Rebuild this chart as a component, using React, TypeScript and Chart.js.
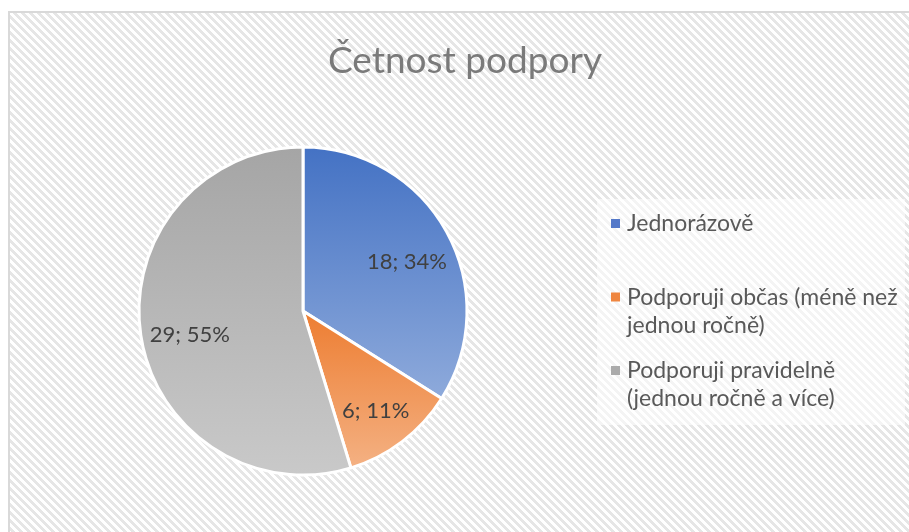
import React, { useEffect, useRef } from "react";
import { Chart, registerables } from "chart.js";
Chart.register(...registerables);

const TITLE = "Četnost podpory";
const categories = [
  "Jednorázově",
  "Podporuji občas (méně než jednou ročně)",
  "Podporuji pravidelně (jednou ročně a více)",
];
const legendLines = [
  ["Jednorázově"],
  ["Podporuji občas (méně než", "jednou ročně)"],
  ["Podporuji pravidelně", "(jednou ročně a více)"],
];
const values = [18, 6, 29];
const gradientTop = ["#4472c4", "#ed7d31", "#a5a5a5"];
const gradientBottom = ["#8eaadb", "#f4b183", "#c9c9c9"];
const legendColors = ["#5479c9", "#ef8640", "#ababab"];

const FONT = "Lato, 'Open Sans', sans-serif";

function makeHatch(): CanvasPattern | string {
  const t = document.createElement("canvas");
  t.width = 8;
  t.height = 8;
  const c = t.getContext("2d");
  if (!c) return "#f2f2f2";
  c.fillStyle = "#ffffff";
  c.fillRect(0, 0, 8, 8);
  c.fillStyle = "#e6e6e6";
  for (let y = 0; y < 8; y++) {
    for (let x = 0; x < 8; x++) {
      const d = (((x - y) % 8) + 8) % 8;
      if (d < 4) c.fillRect(x, y, 1, 1);
    }
  }
  const p = c.createPattern(t, "repeat");
  return p || "#f2f2f2";
}

function yExtent(a: any) {
  let minY = a.y;
  let maxY = a.y;
  const check = (ang: number) => {
    const y = a.y + Math.sin(ang) * a.outerRadius;
    minY = Math.min(minY, y);
    maxY = Math.max(maxY, y);
  };
  check(a.startAngle);
  check(a.endAngle);
  for (let k = -3; k <= 5; k++) {
    const ang = (k * Math.PI) / 2;
    if (ang >= a.startAngle && ang <= a.endAngle) check(ang);
  }
  return [minY, maxY];
}

const decorPlugin = {
  id: "decor",
  beforeDraw(chart: any) {
    const ctx = chart.ctx;
    const W = chart.width;
    const H = chart.height;
    ctx.save();
    ctx.fillStyle = "#ffffff";
    ctx.fillRect(0, 0, W, H);
    ctx.fillStyle = makeHatch();
    ctx.fillRect(8, 11, W - 8, H - 11);
    ctx.strokeStyle = "#d9d9d9";
    ctx.lineWidth = 2;
    ctx.beginPath();
    ctx.moveTo(9, H + 2);
    ctx.lineTo(9, 12);
    ctx.lineTo(W + 2, 12);
    ctx.stroke();
    // legend box
    ctx.fillStyle = "rgba(255,255,255,0.55)";
    ctx.fillRect(597, 199, 308, 226);
    // title
    ctx.fillStyle = "#7a7a7a";
    ctx.font = `37px ${FONT}`;
    ctx.textAlign = "center";
    ctx.textBaseline = "alphabetic";
    ctx.fillText(TITLE, 465, 73);
    ctx.restore();
  },
  beforeDatasetsDraw(chart: any) {
    const ctx = chart.ctx;
    const arcs = chart.getDatasetMeta(0).data;
    arcs.forEach((a: any, i: number) => {
      const [y0, y1] = yExtent(a);
      const g = ctx.createLinearGradient(0, y0, 0, y1);
      g.addColorStop(0, gradientTop[i]);
      g.addColorStop(1, gradientBottom[i]);
      a.options.backgroundColor = g;
    });
  },
  afterDraw(chart: any) {
    const ctx = chart.ctx;
    const arcs = chart.getDatasetMeta(0).data;
    const total = values.reduce((s, v) => s + v, 0);
    ctx.save();
    ctx.fillStyle = "#404040";
    ctx.font = `22px ${FONT}`;
    ctx.textAlign = "center";
    ctx.textBaseline = "middle";
    arcs.forEach((a: any, i: number) => {
      const mid = (a.startAngle + a.endAngle) / 2;
      const r = a.outerRadius * 0.71;
      const x = a.x + Math.cos(mid) * r + 2;
      const y = a.y + Math.sin(mid) * r + 7;
      const pct = Math.round((values[i] / total) * 100);
      ctx.fillText(`${values[i]}; ${pct}%`, x, y);
    });
    // legend
    ctx.textAlign = "left";
    ctx.textBaseline = "alphabetic";
    ctx.font = `23px ${FONT}`;
    const lx = 611;
    const tx = 627;
    const firstBase = 231;
    const slot = 73.5;
    const lineH = 28;
    legendLines.forEach((lines, i) => {
      const base = firstBase + i * slot;
      ctx.fillStyle = legendColors[i];
      ctx.fillRect(lx, base - 12, 9, 9);
      ctx.fillStyle = "#595959";
      lines.forEach((ln, j) => ctx.fillText(ln, tx, base + j * lineH));
    });
    ctx.restore();
  },
};

export default function App() {
  const ref = useRef<HTMLCanvasElement | null>(null);
  useEffect(() => {
    document.body.style.margin = "0";
    if (!ref.current) return;
    const chart = new Chart(ref.current, {
      type: "pie",
      data: {
        labels: categories,
        datasets: [
          {
            data: values,
            backgroundColor: gradientTop,
            borderColor: "#ffffff",
            borderWidth: 3,
            radius: 164,
          } as any,
        ],
      },
      options: {
        responsive: false,
        animation: false,
        layout: { padding: { left: 128, right: 431, top: 136, bottom: 46 } },
        plugins: {
          legend: { display: false },
          title: { display: false },
          tooltip: { enabled: false },
        },
      },
      plugins: [decorPlugin],
    });
    return () => chart.destroy();
  }, []);
  return (
    <div style={{ width: 909, height: 532 }}>
      <canvas ref={ref} width={909} height={532} style={{ display: "block" }} />
    </div>
  );
}
